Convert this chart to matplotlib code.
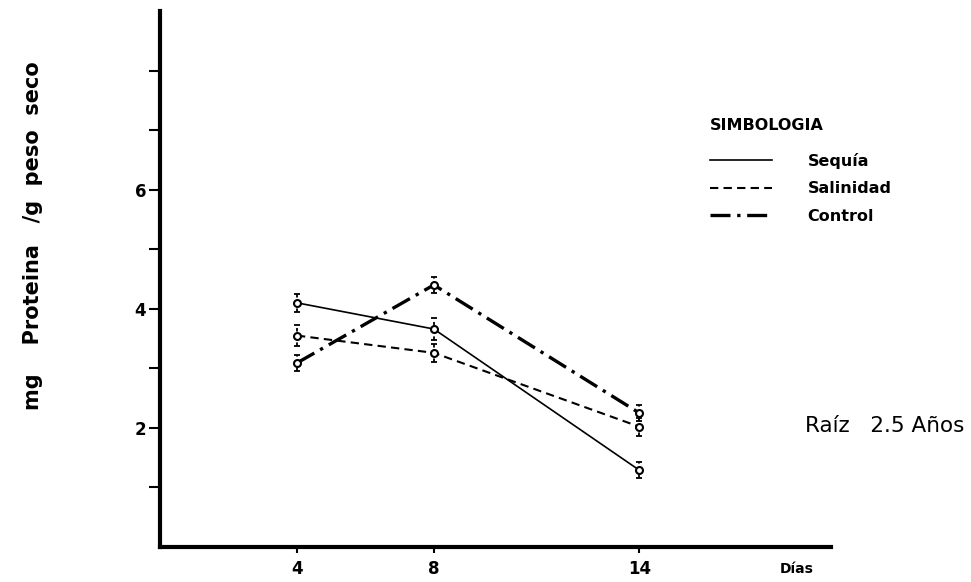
import matplotlib
matplotlib.use("Agg")
import matplotlib.pyplot as plt
from matplotlib.lines import Line2D

# datos
dias = [4, 8, 14]
sequia = [4.10, 3.66, 1.29]
salinidad = [3.55, 3.26, 2.02]
control = [3.09, 4.40, 2.25]
err_sequia = [0.15, 0.18, 0.13]
err_salinidad = [0.17, 0.15, 0.15]
err_control = [0.14, 0.14, 0.13]

etiquetas = ["Sequía", "Salinidad", "Control"]
yticks_major = [2, 4, 6]
yticks_minor = [1, 3, 5, 7, 8]

plt.rcParams['font.family'] = ['DejaVu Sans']

fig = plt.figure(figsize=(9.71, 5.82), dpi=100)
ax = fig.add_axes([160 / 971, 35 / 582, 671 / 971, 536 / 582])

estilos = [
    dict(linestyle='-', linewidth=1.2),
    dict(linestyle=(0, (4, 2.5)), linewidth=1.5),
    dict(linestyle=(0, (6, 2, 1, 2)), linewidth=2.4),
]
series = [sequia, salinidad, control]
errores = [err_sequia, err_salinidad, err_control]

for vals, errs, st in zip(series, errores, estilos):
    ax.plot(dias, vals, color='black', marker='o', markersize=5,
            markerfacecolor='white', markeredgewidth=1.5, zorder=3, **st)
    eb = ax.errorbar(dias, vals, yerr=errs, fmt='none', ecolor='black',
                     elinewidth=1.3, capsize=2.5, capthick=1.3, zorder=2)
    eb[2][0].set_linestyle((0, (2, 2)))

ax.set_xlim(0, 19.6)
ax.set_ylim(0, 9.0)

for side in ['top', 'right']:
    ax.spines[side].set_visible(False)
for side in ['left', 'bottom']:
    ax.spines[side].set_linewidth(3)

ax.set_xticks(dias)
ax.set_xticklabels([str(d) for d in dias], fontsize=12, fontweight='bold')
ax.set_yticks(yticks_major)
ax.set_yticklabels([str(v) for v in yticks_major], fontsize=12, fontweight='bold')
ax.set_yticks(yticks_minor, minor=True)
ax.tick_params(axis='y', which='both', direction='out', length=8, width=1.5, pad=2)
ax.tick_params(axis='x', which='major', direction='out', length=4, width=1.5, pad=5)

ax.text(18.6, -0.25, "Días", fontsize=10, fontweight='bold', ha='center', va='top')

fig.text(33 / 971, 1 - 236 / 582, "mg    Proteina   /g  peso  seco",
         rotation=90, fontsize=15, fontweight='bold', ha='center', va='center')

fig.text(964 / 971, 1 - 426 / 582, "Raíz   2.5 Años", fontsize=15.5,
         ha='right', va='center')

# leyenda: titulo aparte para dejar el hueco del original
fig.text(710 / 971, 1 - 125 / 582, "SIMBOLOGIA", fontsize=11.5,
         fontweight='bold', ha='left', va='center')
handles = [Line2D([], [], color='black', **st) for st in estilos]
leg = ax.legend(handles, etiquetas, loc='upper left',
                bbox_to_anchor=(710 / 971, 1 - 153 / 582),
                bbox_transform=fig.transFigure, frameon=False,
                handlelength=3.9, handletextpad=2.2, labelspacing=0.78,
                borderpad=0, borderaxespad=0,
                prop=dict(size=11.5, weight='bold'))

fig.savefig("out.png", dpi=100)
